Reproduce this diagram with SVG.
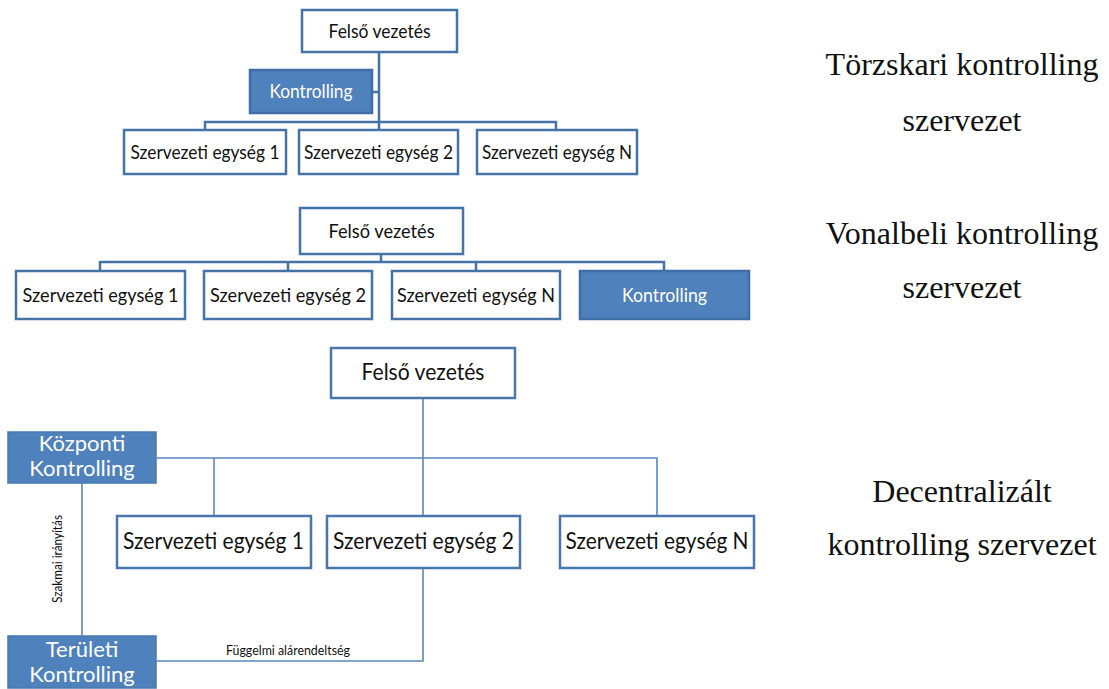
<svg xmlns="http://www.w3.org/2000/svg" width="1109" height="689" viewBox="0 0 1109 689">
  <style>
    .box { fill: #ffffff; stroke: #4572a7; stroke-width: 2.5; }
    .ctl { fill: #4f81bd; stroke: #3f6ea6; stroke-width: 2.5; }
    .box3 { fill: #ffffff; stroke: #4a76ad; stroke-width: 2.5; }
    .ctl3 { fill: #4f81bd; stroke: #4a78b0; stroke-width: 1.5; }
    .wire { fill: none; stroke: #4572a7; stroke-width: 2.5; }
    .wire3 { fill: none; stroke: #5b87c0; stroke-width: 1.6; }
    .lbl { font-family: Lato, "Open Sans", sans-serif; fill: #111111; text-anchor: middle; }
    .wlbl { font-family: Lato, "Open Sans", sans-serif; fill: #ffffff; text-anchor: middle; }
    .cap { font-family: "Liberation Serif", "Times New Roman", serif; font-size: 32px; fill: #111111; text-anchor: middle; }
  </style>

  <!-- connectors -->
  <g id="connectors">
    <!-- staff controlling -->
    <path class="wire" d="M379 52 V122 M372 92 H379 M205 130 V122 H556 V130 M379 122 V130"/>
    <!-- line controlling -->
    <path class="wire" d="M381 254 V262 M100 271 V262 H664 V271 M288 262 V271 M476 262 V271"/>
    <!-- decentralised controlling -->
    <path class="wire3" d="M423 398 V516 M157 458 H657 V516 M214 458 V516"/>
    <path class="wire3" d="M82 483 V636"/>
    <path class="wire3" d="M423 568 V661 H157"/>
  </g>

  <!-- section 1: Törzskari kontrolling szervezet -->
  <g id="s1-top">
    <rect class="box" x="302" y="10" width="155" height="42"/>
    <text class="lbl" x="379.5" y="37.5" font-size="19" textLength="102" lengthAdjust="spacingAndGlyphs">Felső vezetés</text>
  </g>
  <g id="s1-ctl">
    <rect class="ctl" x="250" y="70" width="122" height="43"/>
    <text class="wlbl" x="311" y="98" font-size="19" textLength="83" lengthAdjust="spacingAndGlyphs">Kontrolling</text>
  </g>
  <g id="s1-unit1">
    <rect class="box" x="124" y="130" width="162" height="44"/>
    <text class="lbl" x="205" y="158.5" font-size="19" textLength="149" lengthAdjust="spacingAndGlyphs">Szervezeti egység 1</text>
  </g>
  <g id="s1-unit2">
    <rect class="box" x="299" y="130" width="159" height="44"/>
    <text class="lbl" x="378.5" y="158.5" font-size="19" textLength="149" lengthAdjust="spacingAndGlyphs">Szervezeti egység 2</text>
  </g>
  <g id="s1-unitN">
    <rect class="box" x="477" y="130" width="160" height="44"/>
    <text class="lbl" x="557" y="158.5" font-size="19" textLength="150" lengthAdjust="spacingAndGlyphs">Szervezeti egység N</text>
  </g>

  <!-- section 2: Vonalbeli kontrolling szervezet -->
  <g id="s2-top">
    <rect class="box" x="300" y="208" width="163" height="46"/>
    <text class="lbl" x="381.5" y="237.5" font-size="20" textLength="106" lengthAdjust="spacingAndGlyphs">Felső vezetés</text>
  </g>
  <g id="s2-unit1">
    <rect class="box" x="16" y="271" width="169" height="48"/>
    <text class="lbl" x="100.5" y="302" font-size="20" textLength="156" lengthAdjust="spacingAndGlyphs">Szervezeti egység 1</text>
  </g>
  <g id="s2-unit2">
    <rect class="box" x="204" y="271" width="168" height="48"/>
    <text class="lbl" x="288" y="302" font-size="20" textLength="156" lengthAdjust="spacingAndGlyphs">Szervezeti egység 2</text>
  </g>
  <g id="s2-unitN">
    <rect class="box" x="392" y="271" width="168" height="48"/>
    <text class="lbl" x="476" y="302" font-size="20" textLength="158" lengthAdjust="spacingAndGlyphs">Szervezeti egység N</text>
  </g>
  <g id="s2-ctl">
    <rect class="ctl" x="580" y="271" width="169" height="48"/>
    <text class="wlbl" x="664.5" y="302" font-size="20" textLength="85" lengthAdjust="spacingAndGlyphs">Kontrolling</text>
  </g>

  <!-- section 3: Decentralizált kontrolling szervezet -->
  <g id="s3-top">
    <rect class="box3" x="331" y="348" width="184" height="50"/>
    <text class="lbl" x="423" y="380" font-size="23" textLength="123" lengthAdjust="spacingAndGlyphs">Felső vezetés</text>
  </g>
  <g id="s3-central">
    <rect class="ctl3" x="8" y="432" width="148" height="51"/>
    <text class="wlbl" font-size="22"><tspan x="82" y="451">Központi</tspan><tspan x="82" y="476">Kontrolling</tspan></text>
  </g>
  <g id="s3-unit1">
    <rect class="box3" x="117" y="516" width="194" height="52"/>
    <text class="lbl" x="213.5" y="549" font-size="23" textLength="181" lengthAdjust="spacingAndGlyphs">Szervezeti egység 1</text>
  </g>
  <g id="s3-unit2">
    <rect class="box3" x="327" y="516" width="193" height="52"/>
    <text class="lbl" x="423.5" y="549" font-size="23" textLength="181" lengthAdjust="spacingAndGlyphs">Szervezeti egység 2</text>
  </g>
  <g id="s3-unitN">
    <rect class="box3" x="560" y="516" width="194" height="52"/>
    <text class="lbl" x="657" y="549" font-size="23" textLength="183" lengthAdjust="spacingAndGlyphs">Szervezeti egység N</text>
  </g>
  <g id="s3-regional">
    <rect class="ctl3" x="8" y="636" width="148" height="52"/>
    <text class="wlbl" font-size="22"><tspan x="82" y="657">Területi</tspan><tspan x="82" y="682">Kontrolling</tspan></text>
  </g>

  <!-- relation labels -->
  <text class="lbl" transform="translate(62 559) rotate(-90)" font-size="12.5" textLength="88" lengthAdjust="spacingAndGlyphs">Szakmai irányítás</text>
  <text class="lbl" x="288" y="655" font-size="13" textLength="124" lengthAdjust="spacingAndGlyphs">Függelmi alárendeltség</text>

  <!-- captions -->
  <text class="cap" x="962" y="75">Törzskari kontrolling</text>
  <text class="cap" x="962" y="131">szervezet</text>
  <text class="cap" x="962" y="244">Vonalbeli kontrolling</text>
  <text class="cap" x="962" y="298">szervezet</text>
  <text class="cap" x="962" y="502">Decentralizált</text>
  <text class="cap" x="962" y="555">kontrolling szervezet</text>
</svg>
